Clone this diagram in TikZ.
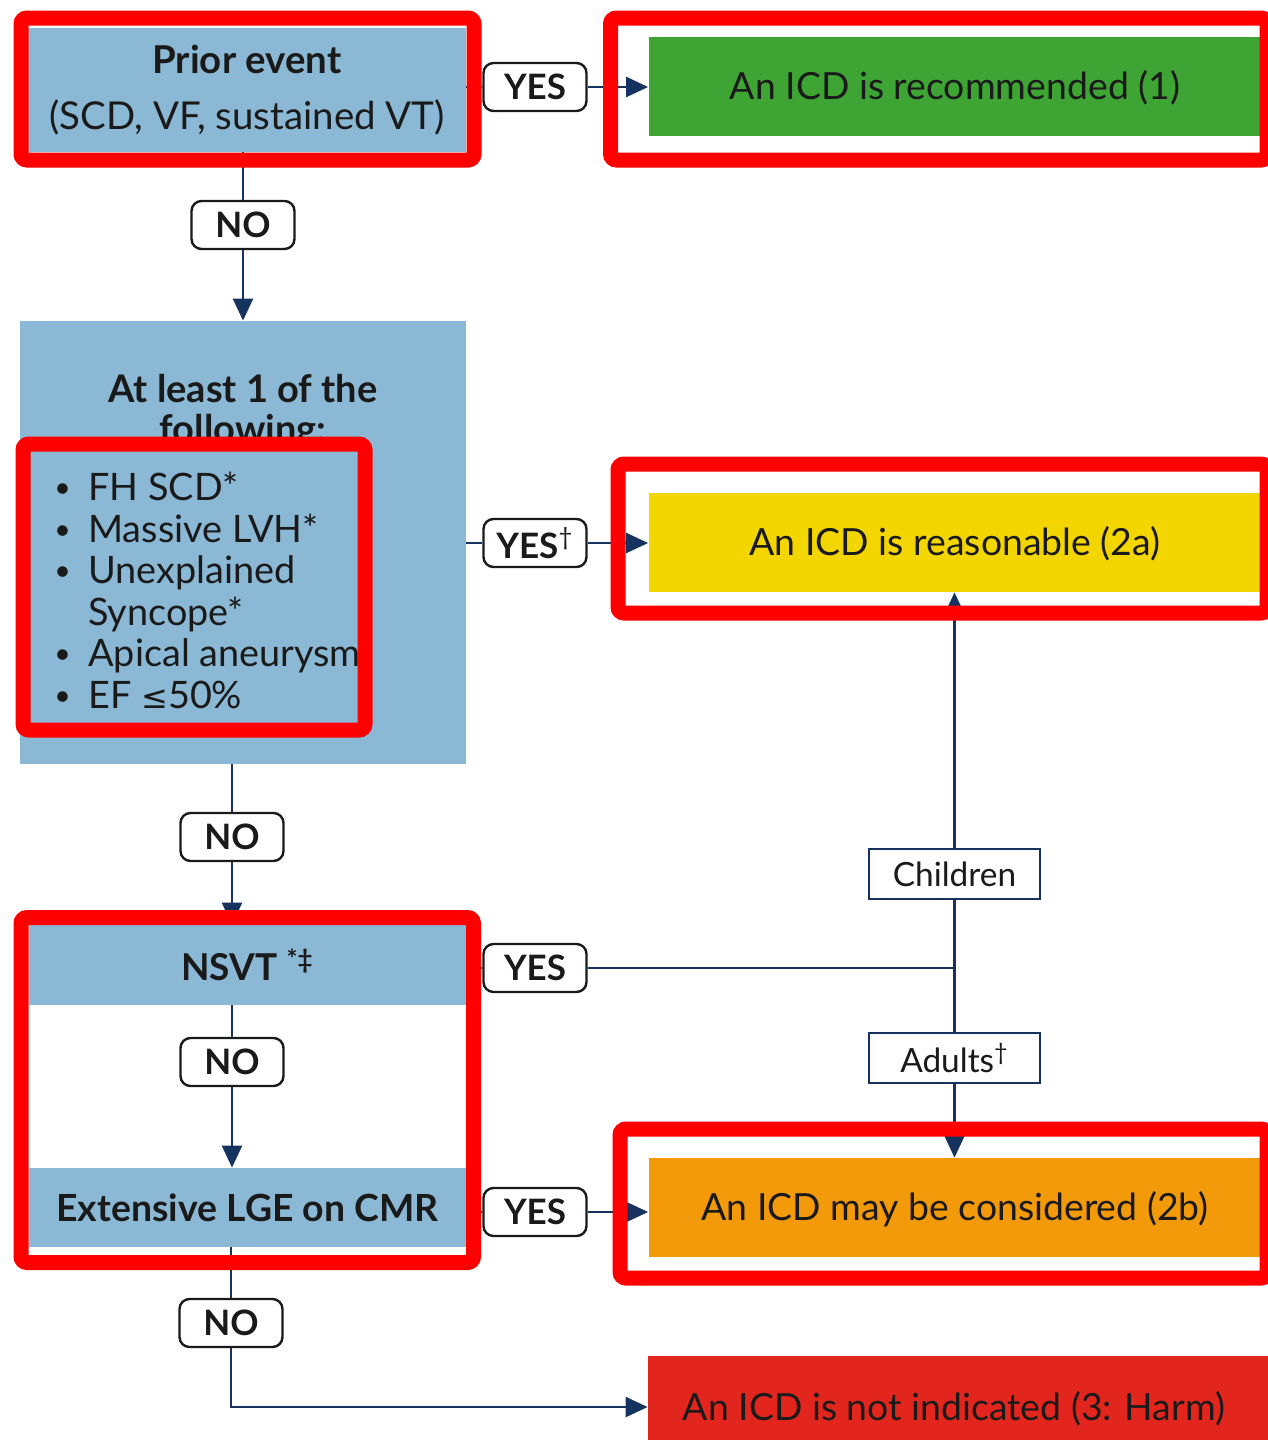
\documentclass[tikz,border=0pt]{standalone}
\usepackage{fontspec}
\setmainfont{Lato}
\newfontfamily\symfont{DejaVu Sans}
\usetikzlibrary{arrows.meta}
\definecolor{boxblue}{RGB}{139,184,212}
\definecolor{navy}{RGB}{22,50,95}
\definecolor{cgreen}{RGB}{62,165,53}
\definecolor{cyellow}{RGB}{243,213,0}
\definecolor{corange}{RGB}{243,154,11}
\definecolor{cred}{RGB}{226,38,29}
\definecolor{frame}{RGB}{255,0,0}
\definecolor{ink}{RGB}{26,26,26}
\newcommand{\bul}{\makebox[19pt][l]{\hspace{2pt}\raisebox{1.5pt}{\scalebox{0.75}{\textbullet}}}}
\begin{document}
\begin{tikzpicture}[x=0.5pt,y=-0.5pt,
  bluebox/.style={fill=boxblue,draw=none,inner sep=0pt,text=ink},
  result/.style={draw=none,inner sep=0pt,minimum width=306.5pt,minimum height=49.5pt,text=ink,text height=13.4pt,text depth=0pt,font=\fontsize{18.7}{22}\selectfont},
  answer/.style={draw=ink,line width=1.2pt,rounded corners=5pt,fill=white,inner sep=0pt,minimum width=51.5pt,minimum height=24pt,text=ink,font=\bfseries\fontsize{17.5}{20}\selectfont},
  group/.style={draw=navy,line width=1.2pt,fill=white,inner sep=0pt,minimum width=85.5pt,minimum height=25pt,text=ink,font=\fontsize{16.7}{20}\selectfont},
  conn/.style={draw=navy,line width=1.2pt},
  arr/.style={conn,-{Triangle[length=11pt,width=10pt]}},
  hl/.style={draw=frame,line width=7.5pt,rounded corners=3pt}
]
\useasboundingbox (0,0) rectangle (1268,1440);
\clip (0,0) rectangle (1268,1440);

% left column
\node[bluebox,minimum width=219pt,minimum height=62pt,align=center,font=\fontsize{19.2}{28}\selectfont] (prior) at (247,90)
  {\textbf{Prior event}\\(SCD, VF, sustained VT)};
\node[bluebox,minimum width=223pt,minimum height=221.5pt] (crit) at (243,542.5) {};
\node[align=center,inner sep=0pt,text=ink,font=\bfseries\fontsize{19}{20}\selectfont] (crittitle) at (243,412) {At least 1 of the\\following:};
\node[anchor=west,align=left,inner sep=0pt,text=ink,font=\fontsize{18.9}{20.75}\selectfont] (critlist) at (50,590.5)
  {\bul FH SCD*\\
   \bul Massive LVH*\\
   \bul Unexplained\\
   \makebox[19pt][l]{}Syncope*\\
   \bul Apical aneurysm\\
   \bul EF {\symfont\fontsize{16}{20}\selectfont ≤}50\%};
\node[bluebox,minimum width=218.5pt,minimum height=40pt,font=\bfseries\fontsize{18.5}{20}\selectfont] (nsvt) at (247.5,965) {NSVT \textsuperscript{*‡}};
\node[bluebox,minimum width=218.5pt,minimum height=39.5pt,font=\bfseries\fontsize{18.7}{20}\selectfont] (lge) at (247.5,1207.5) {Extensive LGE on CMR};

% answer labels
\node[answer] (yes1) at (535,87) {YES};
\node[answer] (no1) at (243,225) {NO};
\node[answer] (yes2) at (535,543) {YES\textsuperscript{\mdseries†}};
\node[answer] (no2) at (232,837) {NO};
\node[answer] (yes3) at (535,968) {YES};
\node[answer] (no3) at (232,1062) {NO};
\node[answer] (yes4) at (535,1212) {YES};
\node[answer] (no4) at (231,1323) {NO};

% results
\node[result,fill=cgreen] (rec) at (955,86) {An ICD is recommended (1)};
\node[result,fill=cyellow] (reas) at (955,542.5) {An ICD is reasonable (2a)};
\node[result,fill=corange] (cons) at (955,1207.5) {An ICD may be considered (2b)};
\node[result,fill=cred,minimum width=312pt,minimum height=51pt] (noind) at (960,1407) {\hspace*{-6pt}An ICD is not indicated (3: Harm)};

% age groups
\node[group] (child) at (954.5,874) {Children};
\node[group] (adult) at (954.5,1058) {Adults\textsuperscript{†}};
\coordinate (junc) at (child |- yes3);

% connectors
\draw[conn] (yes1 -| prior.east) -- (yes1.west);
\draw[arr] (yes1.east) -- (yes1 -| rec.west);
\draw[conn] (no1 |- prior.south) -- (no1.north);
\draw[arr] (no1.south) -- (no1 |- crit.north);
\draw[conn] (yes2 -| crit.east) -- (yes2.west);
\draw[arr] (yes2.east) -- (yes2 -| reas.west);
\draw[conn] (no2 |- crit.south) -- (no2.north);
\draw[arr] (no2.south) -- (no2 |- nsvt.north);
\draw[conn] (no3 |- nsvt.south) -- (no3.north);
\draw[arr] (no3.south) -- (no3 |- lge.north);
\draw[conn] (yes3 -| nsvt.east) -- (yes3.west);
\draw[conn] (yes3.east) -- (junc);
\draw[conn] (junc) -- (child.south);
\draw[arr] (child.north) -- (child |- reas.south);
\draw[conn] (junc) -- (adult.north);
\draw[arr] (adult.south) -- (adult |- cons.north);
\draw[conn] (yes4 -| lge.east) -- (yes4.west);
\draw[arr] (yes4.east) -- (yes4 -| cons.west);
\draw[conn] (no4 |- lge.south) -- (no4.north);
\draw[arr] (no4.south) |- (noind.west);

% highlight frames
\draw[hl] (21,18) rectangle (474,160);
\draw[hl] (610.5,18) rectangle (1267,160);
\draw[hl] (23,444) rectangle (365,730);
\draw[hl] (618,464) rectangle (1267,613);
\draw[hl] (21,917.5) rectangle (473.5,1262.5);
\draw[hl] (620,1129) rectangle (1267,1278);
\end{tikzpicture}
\end{document}
